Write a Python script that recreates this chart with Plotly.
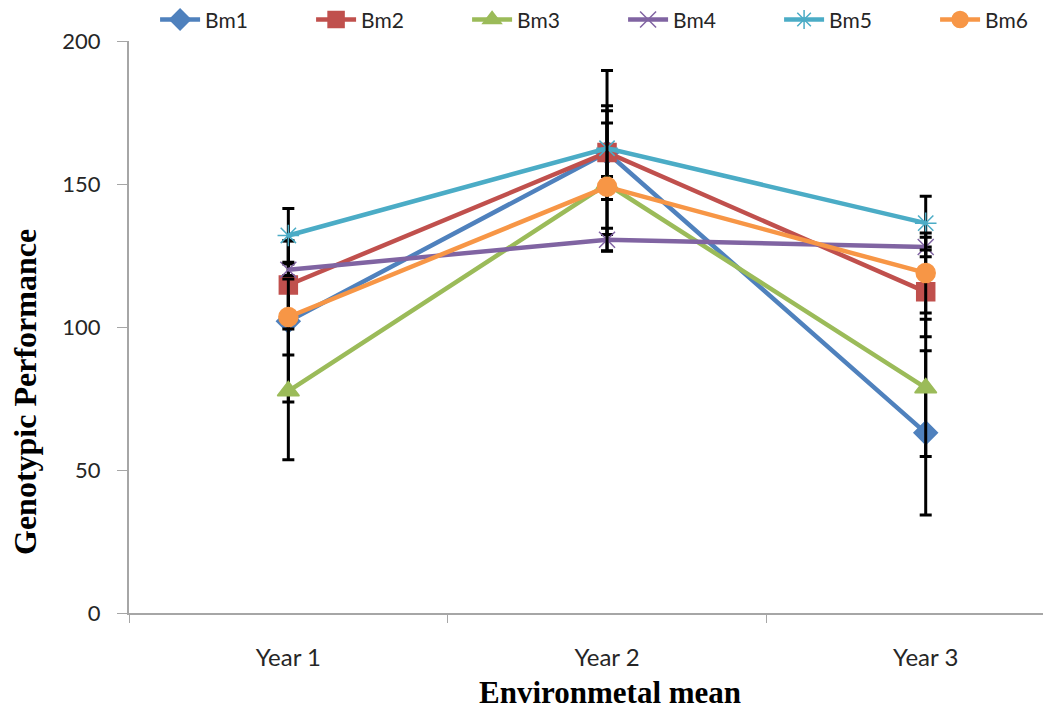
import plotly.graph_objects as go

years = ["Year 1", "Year 2", "Year 3"]
series_names = ["Bm1", "Bm2", "Bm3", "Bm4", "Bm5", "Bm6"]

bm1 = [102.0, 161.0, 63.0]
bm2 = [114.7, 161.0, 112.3]
bm3 = [77.6, 150.0, 78.7]
bm4 = [120.0, 130.5, 128.0]
bm5 = [132.0, 162.5, 136.3]
bm6 = [103.5, 149.0, 118.9]

err1 = [28.2, 16.4, 28.7]
err2 = [15.4, 28.7, 15.7]
err3 = [24.0, 2.6, 24.0]
err4 = [2.0, 4.0, 3.4]
err5 = [9.4, 13.1, 9.4]
err6 = [13.3, 22.3, 14.0]

values = [bm1, bm2, bm3, bm4, bm5, bm6]
errors = [err1, err2, err3, err4, err5, err6]
colors = ["#4F81BD", "#C0504D", "#9BBB59", "#8064A2", "#4BACC6", "#F79646"]
symbols = ["diamond", "square", "triangle-up", "x-thin-open", "asterisk-open", "circle"]
msizes = [18, 18, 19, 16, 18, 19]

fig = go.Figure()
for name, vals, errs, col, sym, ms in zip(series_names, values, errors, colors, symbols, msizes):
    fig.add_trace(go.Scatter(
        x=years, y=vals, name=name, mode="lines+markers",
        line=dict(color=col, width=4.5),
        marker=dict(symbol=sym, size=ms, color=col, line=dict(color=col, width=1.5)),
        error_y=dict(type="data", array=errs, visible=True, color="black", thickness=3, width=6),
    ))

sans = "Lato, Open Sans, sans-serif"
serif = "Liberation Serif, Times New Roman, serif"
# The page has an 8px body margin, so the figure is sized/offset to land on the reference pixels.
fig.update_layout(
    width=1043, height=703,
    margin=dict(l=121, r=1, t=33, b=98, autoexpand=False),
    paper_bgcolor="white", plot_bgcolor="white",
    showlegend=True,
    legend=dict(orientation="h", x=-0.001, y=1.037, xanchor="left", yanchor="middle",
                indentation=27,
                font=dict(family=sans, size=21, color="#262626"),
                entrywidth=74, entrywidthmode="pixels", itemwidth=40, bgcolor="rgba(0,0,0,0)"),
    xaxis=dict(type="category", range=[-0.5, 2.39], showline=True, linecolor="#A6A6A6", linewidth=2,
               ticks="outside", tickson="boundaries", ticklen=8, tickcolor="#A6A6A6", tickwidth=1,
               showgrid=False, zeroline=False, ticklabelstandoff=22,
               tickfont=dict(family=sans, size=24, color="#262626")),
    yaxis=dict(range=[0, 200], tickvals=[0, 50, 100, 150, 200], showline=True, linecolor="#A6A6A6", linewidth=2,
               ticks="outside", ticklen=10, tickcolor="#A6A6A6", tickwidth=1, showgrid=False, zeroline=False,
               ticklabelstandoff=12,
               tickfont=dict(family=sans, size=22, color="#262626")),
    annotations=[
        dict(text="<b>Environmetal mean</b>", xref="paper", yref="paper", x=(610 - 129) / 921, y=-(692 - 613) / 572,
             xanchor="center", yanchor="middle", showarrow=False,
             font=dict(family=serif, size=31, color="black")),
        dict(text="<b>Genotypic Performance</b>", xref="paper", yref="paper", x=-(129 - 25) / 921, y=(613 - 392) / 572,
             xanchor="center", yanchor="middle", showarrow=False, textangle=-90,
             font=dict(family=serif, size=32, color="black")),
    ],
)

fig.write_html("out.html")
